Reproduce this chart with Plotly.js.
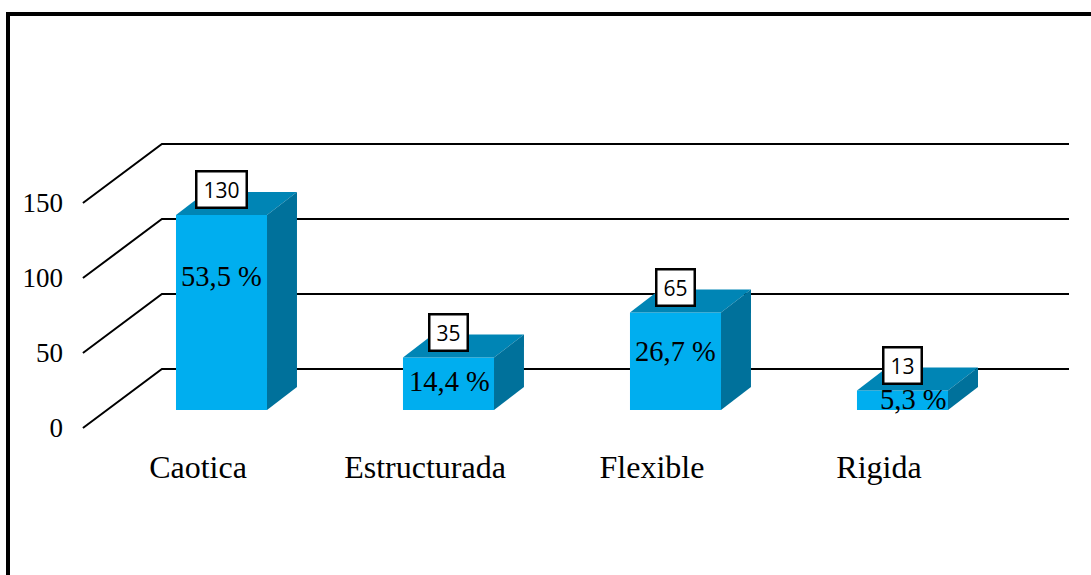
<!DOCTYPE html>
<html>
<head>
<meta charset="utf-8">
<script src="https://cdn.plot.ly/plotly-3.0.1.min.js"></script>
<style>html,body{margin:0;padding:0;background:#fff;overflow:hidden}</style>
</head>
<body>
<div id="chart" style="width:1091px;height:575px"></div>
<script>
// Data
const categories = ["Caotica", "Estructurada", "Flexible", "Rigida"];
const counts = [130, 35, 65, 13];
const percentLabels = ["53,5 %", "14,4 %", "26,7 %", "5,3 %"];
const yTicks = [0, 50, 100, 150];

// Pseudo-3D geometry, in axis units
const floorDepthX = 0.348, floorDepthY = 39.3;   // wall offset from the front plane
const gridStartX = -0.507, gridEndX = 3.837;
const barOffsetX = 0.1035, barWidth = 0.401, barBase = 12;
const barDepthX = 0.132, barDepthY = 15.3;
const countLabelLift = 17;
const pctLabelY = [100.7, 31.3, 51.3, 18.7];
const pctLabelShift = [0, 0.003, 0, 0.05];

const FRONT = "#00AEEF", TOP = "#0085B5", SIDE = "#00719B";
const serif = "'Liberation Serif', serif";

const traces = [];
function poly(xs, ys, color) {
  traces.push({x: xs, y: ys, mode: "lines", fill: "toself", fillcolor: color,
    line: {width: 0, color: color}, hoverinfo: "skip", showlegend: false});
}
yTicks.forEach(v => {
  traces.push({
    x: [gridStartX, gridStartX + floorDepthX, gridEndX],
    y: [v, v + floorDepthY, v + floorDepthY],
    mode: "lines", line: {color: "#000", width: 2}, hoverinfo: "skip", showlegend: false
  });
});
const annotations = [];
counts.forEach((v, i) => {
  const l = i + barOffsetX - barWidth / 2, r = l + barWidth, t = barBase + v;
  poly([l, r, r, l, l], [barBase, barBase, t, t, barBase], FRONT);
  poly([l, r, r + barDepthX, l + barDepthX, l], [t, t, t + barDepthY, t + barDepthY, t], TOP);
  poly([r, r + barDepthX, r + barDepthX, r, r], [barBase, barBase + barDepthY, t + barDepthY, t, barBase], SIDE);
  annotations.push({
    x: i + barOffsetX + pctLabelShift[i], y: pctLabelY[i], xref: "x", yref: "y",
    text: percentLabels[i], showarrow: false,
    font: {family: serif, size: 28.5, color: "#000"}
  });
  annotations.push({
    x: i + barOffsetX, y: t + countLabelLift, xref: "x", yref: "y",
    text: String(v), showarrow: false,
    font: {family: "'Open Sans', sans-serif", size: 21, color: "#000"},
    width: String(v).length * 12 + 6, height: 28,
    bgcolor: "#fff", bordercolor: "#000", borderwidth: 2.5, borderpad: 3
  });
});

const W = 1091, H = 575, mL = 70, mR = 6, mT = 10, mB = 130;
const plotW = W - mL - mR, plotH = H - mT - mB;
const px = p => (p - mL) / plotW, py = p => (H - mB - p) / plotH;

const layout = {
  width: W, height: H, autosize: false,
  margin: {l: mL, r: mR, t: mT, b: mB, pad: 0},
  paper_bgcolor: "#fff", plot_bgcolor: "rgba(0,0,0,0)",
  showlegend: false,
  xaxis: {
    range: [-0.5639, 3.9075], tickmode: "array", tickvals: categories.map((c, i) => i), ticktext: categories,
    showgrid: false, zeroline: false, showline: false, ticks: "",
    tickfont: {family: serif, size: 32, color: "#000"}, fixedrange: true
  },
  yaxis: {
    range: [-11.33, 278.67], tickmode: "array", tickvals: yTicks,
    showgrid: false, zeroline: false, showline: false, ticks: "", ticklabelstandoff: 6,
    tickfont: {family: serif, size: 27, color: "#000"}, fixedrange: true
  },
  annotations: annotations,
  shapes: [{
    type: "path", xref: "paper", yref: "paper",
    path: `M ${px(8)} ${py(580)} L ${px(8)} ${py(14)} L ${px(1095)} ${py(14)}`,
    line: {color: "#000", width: 4}
  }]
};
Plotly.newPlot("chart", traces, layout, {displayModeBar: false, staticPlot: true});
</script>
</body>
</html>
